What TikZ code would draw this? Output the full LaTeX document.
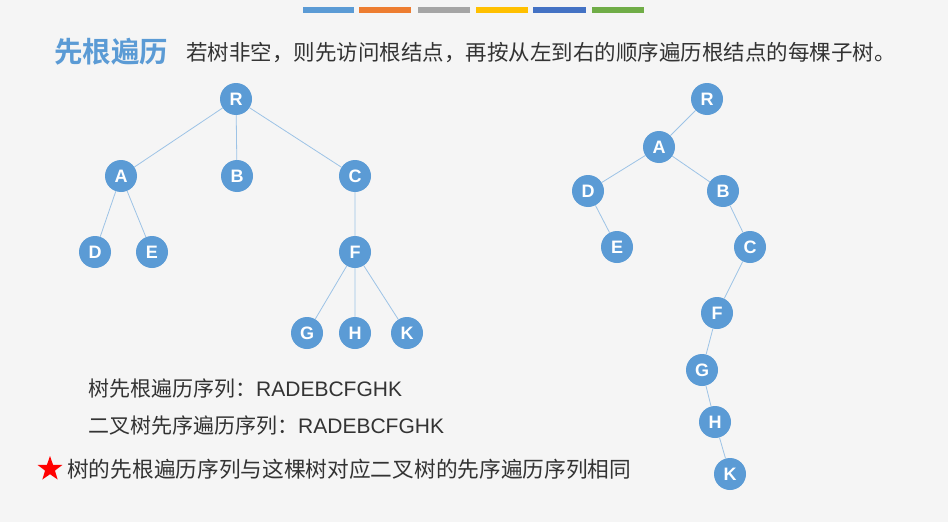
\documentclass[tikz,border=0pt]{standalone}
\usepackage{fontspec}
\setmainfont{Liberation Sans}
\newfontfamily\cjk{Noto Sans CJK SC}
\newfontfamily\cjkb{Noto Sans CJK SC}[BoldFont={* Bold}]
\usetikzlibrary{shapes.geometric}
\definecolor{nodeblue}{HTML}{5B9BD5}
\definecolor{edgeblue}{HTML}{9DC3E6}
\definecolor{titleblue}{HTML}{5B9BD5}
\definecolor{txt}{HTML}{333333}
\definecolor{cbA}{HTML}{5B9BD5}
\definecolor{cbB}{HTML}{ED7D31}
\definecolor{cbC}{HTML}{A5A5A5}
\definecolor{cbD}{HTML}{FFC000}
\definecolor{cbE}{HTML}{4472C4}
\definecolor{cbF}{HTML}{70AD47}
\newcommand{\latseq}{{\rmfamily RADEBCFGHK}}
\begin{document}
\begin{tikzpicture}[x=1pt,y=-1pt,
  tn/.style={circle,fill=nodeblue,minimum size=32pt,inner sep=0pt,text=white,font=\fontsize{18}{18}\selectfont\bfseries},
  ed/.style={draw=edgeblue,line width=0.8pt},
  bar/.style={line width=6pt}]
\fill[white!96!black] (0,0) rectangle (948,522);
\useasboundingbox (0,0) rectangle (948,522);
% color bars
\draw[bar,cbA] (303,10) -- (354,10);
\draw[bar,cbB] (359,10) -- (411,10);
\draw[bar,cbC] (418,10) -- (470,10);
\draw[bar,cbD] (476,10) -- (528,10);
\draw[bar,cbE] (533,10) -- (586,10);
\draw[bar,cbF] (592,10) -- (644,10);
% title
\node[anchor=west,inner sep=0pt,text=titleblue,font=\cjkb\bfseries\fontsize{28.5}{28.5}\selectfont] (title) at (54,52) {先根遍历};
\node[anchor=west,inner sep=0pt,text=txt,font=\cjk\fontsize{21.5}{22}\selectfont] (desc) at (186,53) {若树非空，则先访问根结点，再按从左到右的顺序遍历根结点的每棵子树。};
% left tree
\node[tn] (R) at (236,99) {R};
\node[tn] (A) at (121,176) {A};
\node[tn] (B) at (237,176) {B};
\node[tn] (C) at (355,176) {C};
\node[tn] (D) at (95,252) {D};
\node[tn] (E) at (152,252) {E};
\node[tn] (F) at (355,252) {F};
\node[tn] (G) at (307,333) {G};
\node[tn] (H) at (355,333) {H};
\node[tn] (K) at (407,333) {K};
\draw[ed] (R)--(A) (R)--(B) (R)--(C) (A)--(D) (A)--(E) (C)--(F) (F)--(G) (F)--(H) (F)--(K);
% right tree
\node[tn] (R2) at (707,99) {R};
\node[tn] (A2) at (659,147) {A};
\node[tn] (D2) at (588,191) {D};
\node[tn] (B2) at (723,191) {B};
\node[tn] (E2) at (617,247) {E};
\node[tn] (C2) at (750,247) {C};
\node[tn] (F2) at (717,313) {F};
\node[tn] (G2) at (702,370) {G};
\node[tn] (H2) at (715,422) {H};
\node[tn] (K2) at (730,474) {K};
\draw[ed] (R2)--(A2) (A2)--(D2) (A2)--(B2) (D2)--(E2) (B2)--(C2) (C2)--(F2) (F2)--(G2) (G2)--(H2) (H2)--(K2);
% texts
\node[anchor=west,inner sep=0pt,text=txt,font=\cjk\fontsize{21}{22}\selectfont] (s1) at (88,389) {树先根遍历序列：\latseq};
\node[anchor=west,inner sep=0pt,text=txt,font=\cjk\fontsize{21}{22}\selectfont] (s2) at (88,426) {二叉树先序遍历序列：\latseq};
\node[star,star points=5,star point ratio=2.5,fill=red,minimum size=26pt,inner sep=0pt] (star) at (50,469) {};
\node[anchor=west,inner sep=0pt,text=txt,font=\cjk\fontsize{21.7}{23}\selectfont] (s3) at (67,469) {树的先根遍历序列与这棵树对应二叉树的先序遍历序列相同};
\end{tikzpicture}
\end{document}
